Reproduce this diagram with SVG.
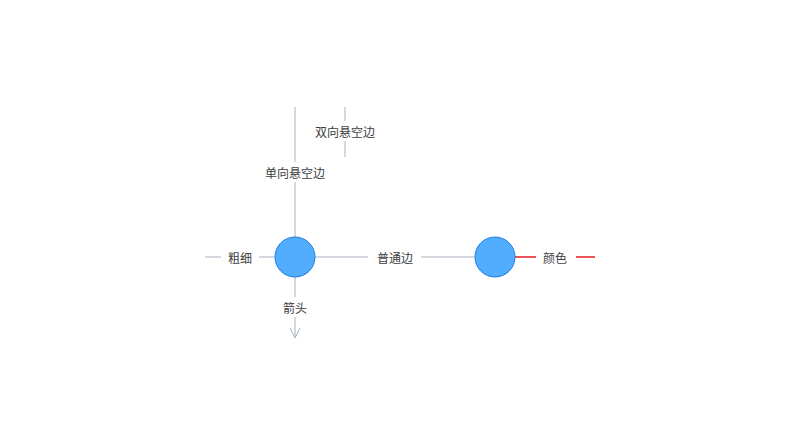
<svg xmlns="http://www.w3.org/2000/svg" width="800" height="428" viewBox="0 0 800 428">
<style>
.e{stroke:#a9b3c0;stroke-width:1;fill:none}
.r{stroke:#e31a1f;stroke-width:1.3;fill:none}
.lb{fill:#ffffff}
.t{font-family:"Noto Sans CJK SC","Liberation Sans",sans-serif;font-size:12px;fill:#404040;text-anchor:middle;dominant-baseline:central}
.n{fill:#52adff;stroke:#1f7fe2;stroke-width:1}
</style>
<defs>
<marker id="arr" viewBox="0 0 12 12" refX="11" refY="6" markerWidth="12" markerHeight="12" markerUnits="userSpaceOnUse" orient="auto">
<path d="M1,1 L11,6 L1,11" fill="none" stroke="#a9b3c0" stroke-width="1"/>
</marker>
</defs>
<rect width="800" height="428" fill="#ffffff"/>
<g id="edges">
<g id="edge-single">
<line class="e" x1="295" y1="107" x2="295" y2="237"/>
<rect class="lb" x="262" y="162" width="66" height="20"/>
<text class="t" x="295" y="172">单向悬空边</text>
</g>
<g id="edge-double">
<line class="e" x1="345" y1="107" x2="345" y2="157"/>
<rect class="lb" x="312" y="121" width="66" height="20"/>
<text class="t" x="345" y="131">双向悬空边</text>
</g>
<g id="edge-width">
<line class="e" x1="205" y1="257" x2="275" y2="257"/>
<rect class="lb" x="221" y="247" width="38" height="20"/>
<text class="t" x="240" y="257">粗细</text>
</g>
<g id="edge-arrow">
<line class="e" x1="295" y1="277" x2="295" y2="338" marker-end="url(#arr)"/>
<rect class="lb" x="277" y="297" width="36" height="20"/>
<text class="t" x="295" y="307">箭头</text>
</g>
<g id="edge-normal">
<line class="e" x1="315" y1="257" x2="475" y2="257"/>
<rect class="lb" x="368" y="247" width="53" height="20"/>
<text class="t" x="395" y="257">普通边</text>
</g>
<g id="edge-color">
<line class="r" x1="515" y1="257" x2="595" y2="257"/>
<rect class="lb" x="536" y="247" width="40" height="20"/>
<text class="t" x="555" y="257">颜色</text>
</g>
</g>
<g id="node1"><circle class="n" cx="295" cy="257" r="20"/></g>
<g id="node2"><circle class="n" cx="495" cy="257" r="20"/></g>
</svg>
